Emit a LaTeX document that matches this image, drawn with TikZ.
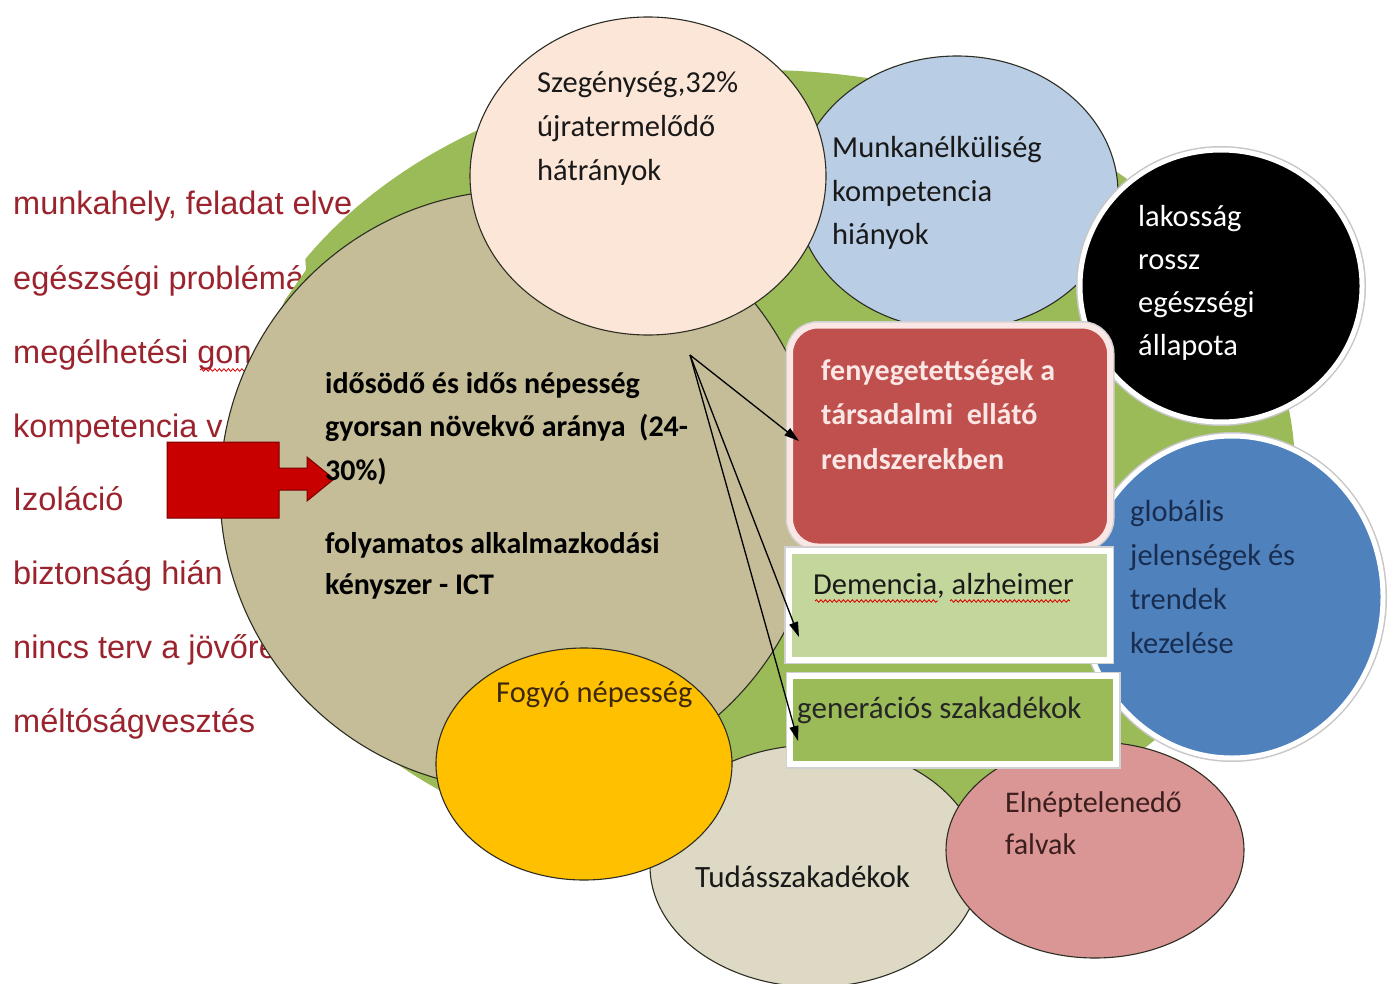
\documentclass[tikz,border=0pt]{standalone}
\usepackage{fontspec}
\setmainfont{Carlito}
\newfontfamily\arialf{Liberation Sans}
\usetikzlibrary{shapes.geometric,arrows.meta,decorations.pathmorphing}
\definecolor{bggreen}{RGB}{155,187,89}
\definecolor{tanc}{RGB}{196,189,151}
\definecolor{peach}{RGB}{252,230,216}
\definecolor{lblue}{RGB}{185,205,229}
\definecolor{mblue}{RGB}{79,129,189}
\definecolor{boxred}{RGB}{192,80,77}
\definecolor{lgreen}{RGB}{195,214,155}
\definecolor{gold}{RGB}{255,192,0}
\definecolor{ltan}{RGB}{221,217,196}
\definecolor{pinkc}{RGB}{217,150,148}
\definecolor{listred}{RGB}{155,35,45}
\definecolor{navy}{RGB}{25,45,80}
\definecolor{arrred}{RGB}{200,0,0}
\definecolor{arredge}{RGB}{120,0,0}
\definecolor{outl}{RGB}{45,45,35}
\definecolor{lpink}{RGB}{250,230,228}
\definecolor{dbrown}{RGB}{60,40,15}
\definecolor{dred}{RGB}{60,30,30}
\begin{document}
\begin{tikzpicture}[x=1pt,y=-1pt,
  blob/.style={ellipse, inner sep=0pt, outer sep=0pt, draw=outl, line width=1.1pt},
  rim/.style={ellipse, inner sep=0pt, outer sep=0pt, draw=white, line width=5pt, preaction={draw=black!22, line width=8pt}},
  panel/.style={rectangle, inner sep=0pt, outer sep=0pt, draw=white, line width=6pt, preaction={draw=black!18, line width=9pt}},
  lbl/.style={anchor=base west, inner sep=0pt, align=left, font=\fontsize{30.5}{44}\selectfont},
  lst/.style={anchor=base west, inner sep=0pt, text=listred, font=\arialf\fontsize{32.5}{36}\selectfont},
  conn/.style={line width=1.3pt, -{Triangle[length=15pt,width=9pt]}},
  squiggle/.style={red!85!black, line width=0.8pt, decorate, decoration={snake, amplitude=1.3pt, segment length=4.5pt}}
]
\useasboundingbox[fill=white] (0,0) rectangle (1388,984);

% left list
\node[lst] (l1) at (13,215) {munkahely, feladat elve};
\node[lst] (l2) at (13,289) {egészségi problémá};
\node[lst] (l3) at (13,363) {megélhetési gon};
\node[lst] (l4) at (13,437) {kompetencia v};
\node[lst] (l5) at (13,510) {Izoláció};
\node[lst] (l6) at (13,584) {biztonság hián};
\node[lst] (l7) at (13,658) {nincs terv a jövőre};
\node[lst] (l8) at (13,732) {méltóságvesztés};
\coordinate (w1a) at (200,370);
\coordinate (w1b) at (262,370);
\draw[squiggle] (w1a) -- (w1b);

% background shapes
\begin{scope}
\clip (290,0) -- (1388,0) -- (1388,984) -- (420,984) -- (330,740) -- (255,600) -- (240,480) -- (250,380) -- (285,300) -- (306,270) -- cycle;
\node[ellipse, inner sep=0pt, fill=bggreen, minimum width=1070pt, minimum height=800pt] (green) at (760,470) {};
\end{scope}
\node[blob, fill=tanc, minimum width=600pt, minimum height=600pt] (tan) at (520,490) {};
\node[blob, fill=lblue, minimum width=322pt, minimum height=274pt] (munka) at (957,193) {};
\node[blob, fill=peach, minimum width=356pt, minimum height=318pt] (szeg) at (648,176) {};
\node[rim, fill=black, minimum width=282pt, minimum height=272pt] (lak) at (1221,286) {};
\node[rim, fill=mblue, minimum width=302pt, minimum height=322pt] (glob) at (1232,597) {};
\node[blob, fill=ltan, minimum width=330pt, minimum height=242pt] (tudas) at (815,866) {};
\node[blob, fill=gold, minimum width=296pt, minimum height=232pt] (fogyo) at (584,764) {};
\node[blob, fill=pinkc, minimum width=298pt, minimum height=216pt] (elnep) at (1095,850) {};

% boxes
\node[panel, draw=lpink, rounded corners=28pt, fill=boxred, minimum width=320pt, minimum height=221pt] (feny) at (950,436) {};
\node[panel, fill=lgreen, minimum width=321pt, minimum height=109pt] (dem) at (949,605) {};
\node[panel, fill=bggreen, minimum width=326pt, minimum height=88pt] (gen) at (953,720) {};

% arrows
\coordinate (o) at (690,355);
\coordinate (t1) at (799,441);
\coordinate (t2) at (799,637);
\coordinate (t3) at (798,741);
\draw[conn] (o) -- (t1);
\draw[conn] (o) -- (t2);
\draw[conn] (o) -- (t3);

% red callout arrow
\draw[fill=arrred, draw=arredge, line width=1pt] (167,442) -- (279,442) -- (279,468) -- (307,468) -- (307,457) -- (334,479) -- (307,501) -- (307,490) -- (279,490) -- (279,518) -- (167,518) -- cycle;

% texts (anchor = baseline of the last line)
\node[lbl, text=black!90] (tszeg) at (537,181) {Szegénység,32\%\\újratermelődő\\hátrányok};
\node[lbl, text=black!90, font=\fontsize{30.5}{43}\selectfont] (tmunka) at (832,244) {Munkanélküliség\\kompetencia\\hiányok};
\node[lbl, text=white, font=\fontsize{30.5}{43}\selectfont] (tlak) at (1138,355) {lakosság\\rossz\\egészségi\\állapota};
\node[lbl, text=lpink, font=\bfseries\fontsize{30}{44.5}\selectfont] (tfeny) at (821,469) {fenyegetettségek a\\társadalmi~~ellátó\\rendszerekben};
\node[lbl, text=black, font=\bfseries\fontsize{30}{43.5}\selectfont] (tido) at (325,480) {idősödő és idős népesség\\gyorsan növekvő aránya~~(24-\\30\%)};
\node[lbl, text=black, font=\bfseries\fontsize{30}{41}\selectfont] (tfoly) at (325,594) {folyamatos alkalmazkodási\\kényszer - ICT};
\node[lbl, text=black!90] (tdem) at (813,594) {Demencia, alzheimer};
\coordinate (w2a) at (815,601);
\coordinate (w2b) at (938,601);
\coordinate (w3a) at (950,601);
\coordinate (w3b) at (1070,601);
\draw[squiggle] (w2a) -- (w2b);
\draw[squiggle] (w3a) -- (w3b);
\node[lbl, text=black!85, font=\fontsize{31}{44}\selectfont] (tgen) at (797,718) {generációs szakadékok};
\node[lbl, text=navy] (tglob) at (1130,653) {globális\\jelenségek és\\trendek\\kezelése};
\node[lbl, text=dbrown] (tfogy) at (496,702) {Fogyó népesség};
\node[lbl, text=black!90, font=\fontsize{31}{44}\selectfont] (ttud) at (695,887) {Tudásszakadékok};
\node[lbl, text=dred, font=\fontsize{30}{42}\selectfont] (telnep) at (1005,854) {Elnéptelenedő\\falvak};
\end{tikzpicture}
\end{document}
